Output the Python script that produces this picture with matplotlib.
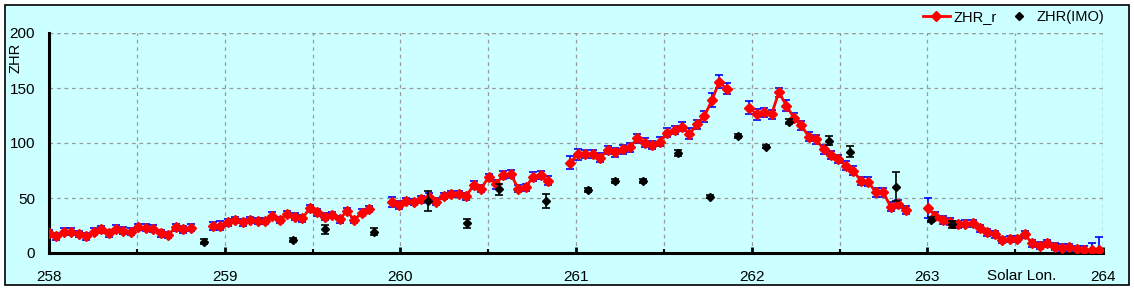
import matplotlib
matplotlib.use("Agg")
import matplotlib.pyplot as plt
from matplotlib.patches import Rectangle
from matplotlib.ticker import MultipleLocator

# ZHR_r: hourly values, split into the observed runs (gaps between runs)
lon_runs = [
    [258.000, 258.042, 258.085, 258.127, 258.170, 258.212, 258.254, 258.297, 258.339, 258.382,
     258.424, 258.466, 258.509, 258.551, 258.594, 258.636, 258.678, 258.721, 258.763, 258.806],
    [258.933, 258.975, 259.018, 259.060, 259.102, 259.145, 259.187, 259.230, 259.272, 259.314, 259.357,
     259.399, 259.442, 259.484, 259.526, 259.569, 259.611, 259.654, 259.696, 259.738, 259.781, 259.823],
    [259.950, 259.993, 260.035, 260.078, 260.120, 260.162, 260.205, 260.247, 260.290, 260.332, 260.374,
     260.417, 260.459, 260.502, 260.544, 260.586, 260.629, 260.671, 260.714, 260.756, 260.798, 260.841],
    [260.968, 261.010, 261.053, 261.095, 261.138, 261.180, 261.222, 261.265, 261.307, 261.350, 261.392,
     261.434, 261.477, 261.519, 261.562, 261.604, 261.646, 261.689, 261.731, 261.774, 261.816, 261.858],
    [261.986, 262.028, 262.070, 262.113, 262.155, 262.198, 262.240, 262.282, 262.325, 262.367, 262.410,
     262.452, 262.494, 262.537, 262.579, 262.622, 262.664, 262.706, 262.749, 262.791, 262.834, 262.876],
    [263.003, 263.046, 263.088, 263.130, 263.173, 263.215, 263.258, 263.300, 263.342, 263.385, 263.427, 263.470,
     263.512, 263.554, 263.597, 263.639, 263.682, 263.724, 263.766, 263.809, 263.851, 263.894, 263.936, 263.978],
]
zhr_runs = [
    [17.9, 15.2, 19.4, 19.4, 17.3, 15.2, 19.4, 21.5, 17.9, 22.1,
     20.3, 19.4, 23.6, 23.0, 22.1, 17.9, 16.4, 23.3, 21.5, 23.0],
    [24.5, 24.8, 27.9, 30.0, 27.9, 30.0, 29.1, 29.1, 33.9, 30.0, 35.5,
     33.0, 31.5, 40.6, 37.0, 33.0, 34.5, 30.6, 38.2, 30.0, 36.7, 40.0],
    [46.7, 43.6, 47.3, 46.4, 48.8, 51.2, 46.7, 51.8, 53.6, 53.6, 51.5,
     61.8, 58.5, 68.8, 62.4, 70.9, 71.8, 58.5, 59.7, 69.4, 70.9, 65.8],
    [82.1, 90.0, 90.0, 90.0, 86.7, 93.6, 91.5, 94.2, 96.1, 104.2, 100.3,
     98.2, 101.2, 109.4, 111.8, 114.8, 108.2, 117.0, 124.5, 139.1, 155.8, 149.1],
    [132.1, 126.1, 127.9, 126.1, 146.1, 133.9, 123.0, 116.1, 105.8, 103.3, 94.2,
     89.1, 85.5, 79.4, 74.8, 65.5, 64.8, 55.2, 55.2, 42.1, 44.5, 39.1],
    [41.2, 33.6, 30.0, 28.5, 26.1, 26.7, 27.0, 22.4, 18.8, 17.0, 11.8, 12.7,
     12.7, 17.0, 8.8, 6.7, 8.8, 5.8, 4.8, 5.2, 3.6, 2.7, 2.7, 2.7],
]
err_runs = [
    [3, 3, 3, 3, 3, 3, 3, 3, 3, 3, 3, 3, 3, 3, 3, 3, 3, 3, 3, 3],
    [4, 4, 3, 3, 3, 3, 3, 3, 3, 3, 3, 3, 3, 3, 3, 3, 3, 3, 3, 3, 3, 3],
    [4.5, 4, 3, 3, 3, 3, 3, 3, 3, 3, 3, 4, 3, 3, 4, 4, 4, 3, 3, 4, 4, 4],
    [6, 5, 4, 4, 4, 4, 4, 4, 4, 4, 4, 4, 4, 4, 4, 4, 5, 4, 5, 6, 6, 5],
    [6, 5, 4, 4, 4, 5, 4, 4, 4, 4, 4, 4, 4, 4, 4, 4, 4, 4, 4, 4, 4, 4],
    [9, 4, 4, 3, 3, 3, 3, 3, 3, 3, 3, 3, 3, 3, 3, 3, 3, 3, 3, 3, 3, 4, 6, 12],
]

# ZHR(IMO)
imo_lon = [258.88, 259.39, 259.57, 259.85, 260.157, 260.38, 260.56, 260.83, 261.07, 261.22, 261.38,
           261.58, 261.76, 261.92, 262.08, 262.21, 262.44, 262.56, 262.82, 263.02, 263.14]
imo_zhr = [10.3, 11.8, 21.5, 19.4, 47.6, 27.0, 57.9, 47.3, 57.3, 65.5, 65.5,
           90.9, 51.2, 106.4, 96.7, 119.4, 102.1, 92.1, 60.3, 30.3, 26.1]
imo_err = [2, 2, 4, 3, 9, 4, 5, 6, 2, 2, 2,
           3, 1.5, 2, 1.5, 2, 4, 5, 13, 2, 3]

BG = "#CCFFFF"
W, H = 1134, 290

plt.rcParams["font.family"] = ["Liberation Sans", "DejaVu Sans"]

fig = plt.figure(figsize=(W / 100, H / 100), dpi=100)
fig.patch.set_facecolor("white")
frame = Rectangle((5 / W, 1 - 285 / H), (1129 - 5) / W, (285 - 5) / H,
                  transform=fig.transFigure, facecolor=BG, edgecolor="black",
                  linewidth=1.2, zorder=-10)
fig.patches.append(frame)

ax = fig.add_axes([49 / W, 1 - 253 / H, (1103 - 49) / W, (253 - 33) / H])
ax.set_facecolor(BG)
ax.set_xlim(258, 264)
ax.set_ylim(0, 200)

# grid
ax.xaxis.set_major_locator(MultipleLocator(1))
ax.xaxis.set_minor_locator(MultipleLocator(0.5))
ax.yaxis.set_major_locator(MultipleLocator(50))
ax.grid(which="both", axis="x", color="#999999", linestyle=(0, (3, 3)), linewidth=0.9)
ax.grid(which="major", axis="y", color="#999999", linestyle=(0, (3, 3)), linewidth=0.9)
ax.axvline(264, color="#999999", linestyle=(0, (3, 3)), linewidth=0.9, zorder=0.5)
ax.axhline(200, color="#999999", linestyle=(0, (3, 3)), linewidth=0.9, zorder=0.5)
ax.set_axisbelow(True)

for s in ["top", "right"]:
    ax.spines[s].set_visible(False)
ax.spines["left"].set_linewidth(2.2)
ax.spines["bottom"].set_linewidth(2.2)

ax.tick_params(axis="x", which="major", direction="in", length=4, width=2, pad=12, labelsize=11)
ax.tick_params(axis="x", which="minor", direction="in", length=3, width=1.5)
ax.tick_params(axis="y", length=0, pad=10, labelsize=11)

# ZHR_r
for i, (xs, ys, es) in enumerate(zip(lon_runs, zhr_runs, err_runs)):
    ax.errorbar(xs, ys, yerr=es, fmt="none", ecolor="#0000FF", elinewidth=1.2,
                capsize=3, capthick=1.2, zorder=2)
    ax.plot(xs, ys, color="#FF0000", linewidth=2, marker="D", markersize=4.8,
            label="ZHR_r" if i == 0 else None, zorder=3)

# ZHR(IMO)
ax.errorbar(imo_lon, imo_zhr, yerr=imo_err, fmt="none", ecolor="black", elinewidth=1.2,
            capsize=3, capthick=1.2, zorder=4)
ax.plot(imo_lon, imo_zhr, linestyle="none", marker="D", markersize=4.2, color="black",
        label="ZHR(IMO)", zorder=5)

fig.text(16 / W, 1 - 58 / H, "ZHR", rotation=90, ha="center", va="center", fontsize=10.5)
fig.text(1022 / W, 1 - 276 / H, "Solar Lon.", ha="center", va="center", fontsize=11)

leg = fig.legend(loc="center right", bbox_to_anchor=(1104 / W, 1 - 17 / H), ncol=2,
                 frameon=False, fontsize=10.5, handlelength=1.85, handletextpad=0.25,
                 columnspacing=0.6, borderaxespad=0, borderpad=0)

fig.savefig("out.png", dpi=100, facecolor="white")
